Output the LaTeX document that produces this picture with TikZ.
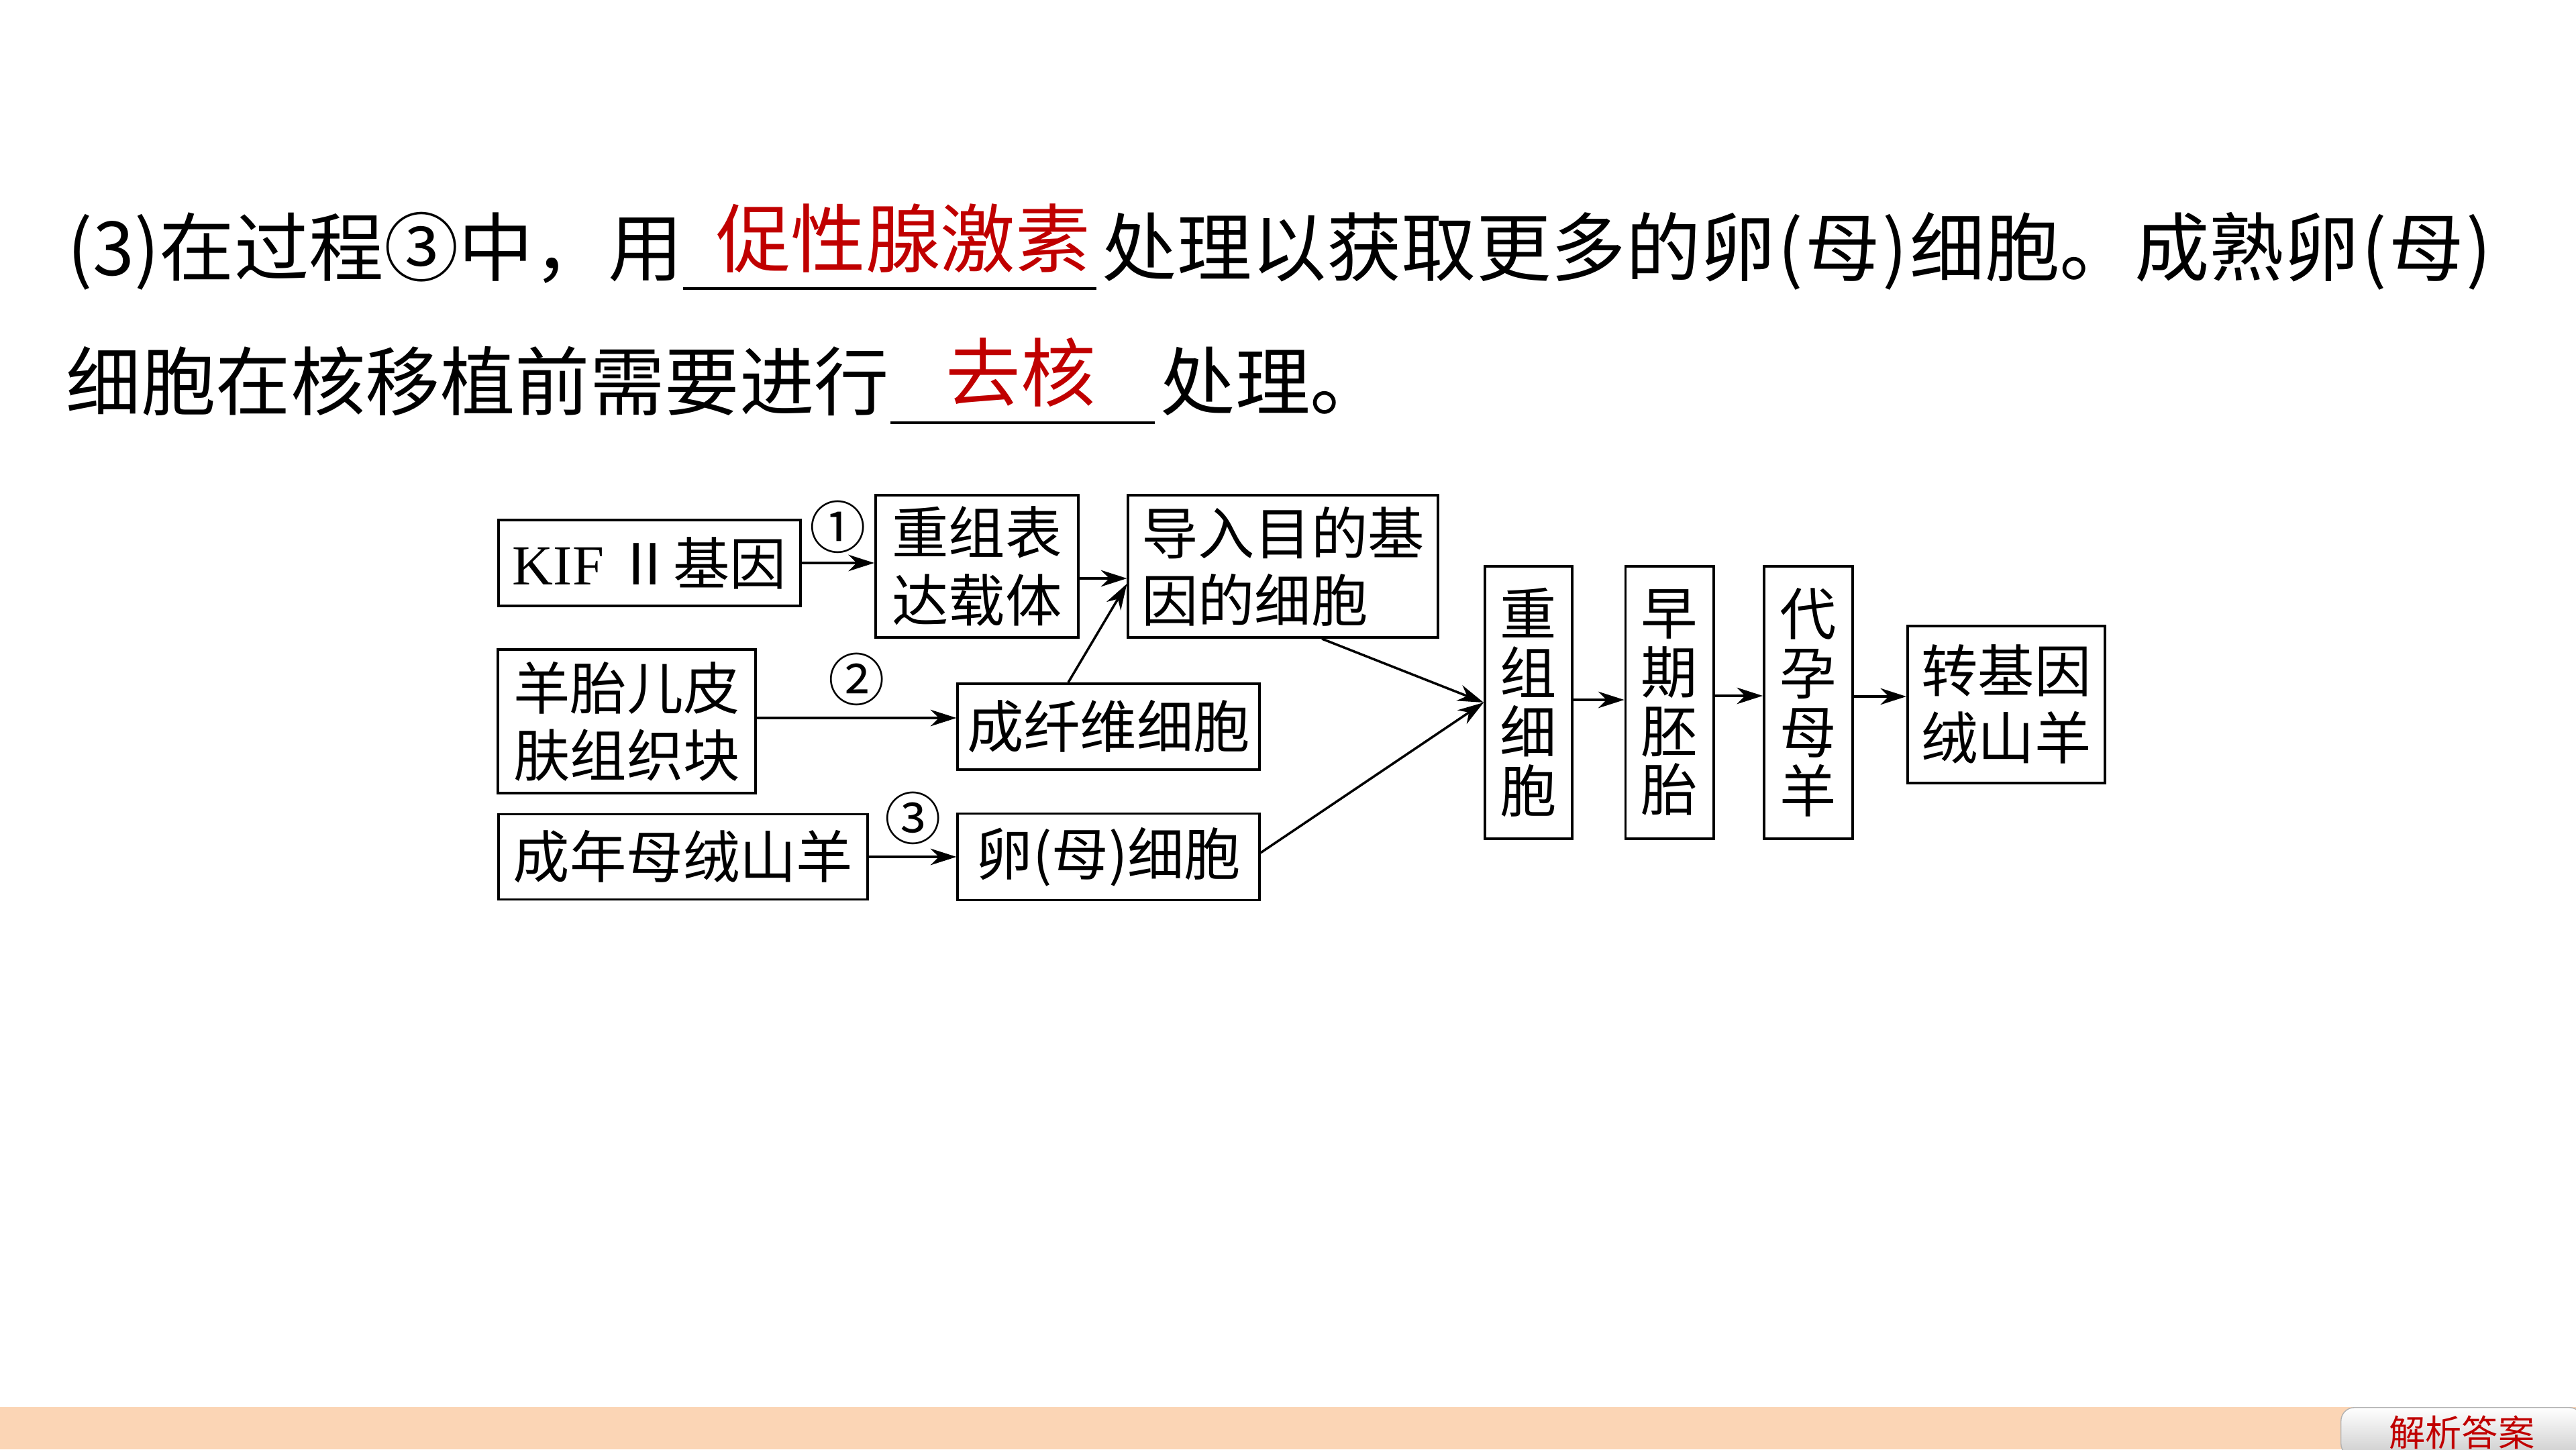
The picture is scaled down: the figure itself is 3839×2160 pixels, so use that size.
\documentclass[tikz,border=0pt]{standalone}
\usepackage{fontspec}
\usetikzlibrary{arrows.meta,positioning,calc}
\setmainfont{Noto Sans CJK SC}
\newfontfamily\cjk{Noto Sans CJK SC}
\newfontfamily\timesfont{Liberation Serif}
\definecolor{ansRed}{HTML}{C00000}
\definecolor{barPeach}{HTML}{FBD5B5}
\newcommand\qfont{\cjk\fontsize{31.7pt}{36pt}\selectfont}
\newcommand\dgfont{\cjk\fontsize{24pt}{28.5pt}\selectfont}
\newcommand\vfont{\cjk\fontsize{24pt}{25pt}\selectfont}
\newcommand\btnfont{\cjk\fontsize{15.4pt}{18pt}\selectfont}
\newcommand\lpar{\kern1pt(\kern1pt}
\newcommand\rpar{\kern1pt)\kern1pt}

\begin{document}
\begin{tikzpicture}[x=0.01cm,y=-0.01cm,
    box/.style={draw,line width=1.1pt,inner sep=0pt,font=\dgfont,align=center},
    vbox/.style={box,font=\vfont,minimum height=4.05cm},
    arr/.style={-{Stealth[length=11pt,width=7pt,inset=3.5pt]},line width=1pt},
    num/.style={font=\dgfont,inner sep=0pt},
    qtext/.style={font=\qfont,inner sep=0pt,anchor=base west},
    answer/.style={font=\qfont,inner sep=0pt,anchor=base,text=ansRed}]
  \useasboundingbox (0,0) rectangle (3839,2160);

  % question text
  \node[qtext] (q1a) at (100,410) {(3)在过程③中，用};
  \coordinate (u1a) at (1018,430);
  \coordinate (u1b) at (1634,430);
  \draw[line width=1.1pt] (u1a) -- (u1b);
  \node[answer] (ans1) at (1346,397) {促性腺激素};
  \node[qtext] (q1b) at (1642,410) {处理以获取更多的卵\lpar 母\rpar 细胞。成熟卵\lpar 母\rpar};
  \node[qtext] (q2a) at (98,610) {细胞在核移植前需要进行};
  \coordinate (u2a) at (1327,630);
  \coordinate (u2b) at (1721,630);
  \draw[line width=1.1pt] (u2a) -- (u2b);
  \node[answer] (ans2) at (1521,597) {去核};
  \node[qtext] (q2b) at (1729,610) {处理。};

  % flow chart
  \node[box,minimum width=4.5cm,minimum height=1.28cm] (kif) at (968,839) {{\timesfont KIF}\ Ⅱ基因};
  \node[box,minimum width=3.02cm,minimum height=2.12cm] (vec) at (1456,844) {重组表\\达载体};
  \node[box,align=left,minimum width=4.61cm,minimum height=2.12cm] (tcell) at (1912,844) {导入目的基\\因的细胞};
  \node[box,minimum width=3.83cm,minimum height=2.14cm] (skin) at (934,1075) {羊胎儿皮\\肤组织块};
  \node[box,minimum width=4.49cm,minimum height=1.28cm] (fib) at (1652,1083) {成纤维细胞};
  \node[box,minimum width=5.5cm,minimum height=1.27cm] (goat) at (1018,1277) {成年母绒山羊};
  \node[box,minimum width=4.49cm,minimum height=1.29cm] (egg) at (1652,1277) {卵(母)细胞};
  \node[vbox,minimum width=1.3cm] (recell) at (2278,1047) {重\\组\\细\\胞};
  \node[vbox,minimum width=1.31cm] (embryo) at (2488,1047) {早\\期\\胚\\胎};
  \node[vbox,minimum width=1.32cm] (surr) at (2695,1047) {代\\孕\\母\\羊};
  \node[box,minimum width=2.94cm,minimum height=2.34cm] (tg) at (2990,1050) {转基因\\绒山羊};

  \draw[arr] (kif.east) -- node[num,midway,above=0.12cm]{①} (kif.east -| vec.west);
  \draw[arr] ($(vec.east)+(0,18)$) -- ($(tcell.west)+(0,18)$);
  \draw[arr] ($(fib.north)+(-60,0)$) -- ($(tcell.west)+(0,26)$);
  \draw[arr] ($(skin.east)+(0,-5)$) -- node[num,midway,above=0.16cm]{②} ($(fib.west)+(0,-13)$);
  \draw[arr] (goat.east) -- node[num,midway,above=0.16cm]{③} (egg.west);
  \draw[arr] ($(tcell.south)+(58,0)$) -- (recell.west);
  \draw[arr] ($(egg.east)+(0,-6)$) -- (recell.west);
  \draw[arr] ($(recell.east)+(0,-4)$) -- ($(embryo.west)+(0,-4)$);
  \draw[arr] ($(embryo.east)+(0,-10)$) -- ($(surr.west)+(0,-10)$);
  \draw[arr] ($(surr.east)+(0,-9)$) -- ($(tg.west)+(0,-12)$);

  % bottom bar
  \fill[barPeach] (0,2097) rectangle (3839,2160);
  \node[draw=gray!60,rounded corners=0.2cm,top color=white,bottom color=gray!40,
        minimum width=3.6cm,minimum height=0.64cm,anchor=north west,
        font=\btnfont,text=ansRed] (ansBtn) at (3488,2097) {解析答案};
\end{tikzpicture}
\end{document}
